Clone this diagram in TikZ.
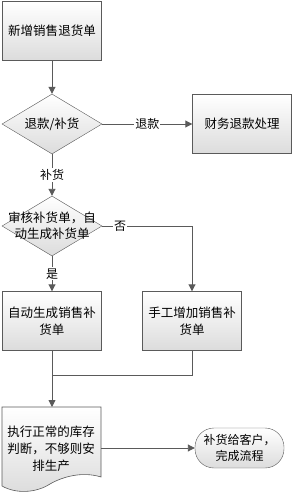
\documentclass[tikz,border=0pt]{standalone}
\usepackage{fontspec}
\setmainfont{Noto Sans CJK SC}
\usetikzlibrary{arrows.meta,shapes.geometric}
\definecolor{edge}{RGB}{90,90,90}
\definecolor{boxlo}{RGB}{220,220,220}
\tikzset{
  blk/.style={draw=edge,top color=white,bottom color=boxlo,align=center,
              inner sep=1pt,font=\fontsize{12.5}{17}\selectfont,
              minimum width=99pt,minimum height=59pt},
  dec/.style={blk,diamond,minimum width=100pt,minimum height=60pt,inner sep=0pt},
  txt/.style={align=center,inner sep=0pt,font=\fontsize{12.5}{16}\selectfont},
  term/.style={blk,rounded corners=19pt,minimum width=89pt,minimum height=40pt,
               font=\fontsize{12}{16}\selectfont},
  flow/.style={-{Triangle[length=7pt,width=7pt]},draw=edge,line width=0.9pt},
  link/.style={draw=edge,line width=0.9pt},
  lbl/.style={fill=white,inner sep=1pt,font=\fontsize{12}{14}\selectfont},
}
\begin{document}
\begin{tikzpicture}[x=1pt,y=-1pt]
  \useasboundingbox (0,0) rectangle (294,492);

  % ---------------- top: new order and first decision ----------------
  \node[blk] (new) at (52,31) {新增销售退货单};
  \node[dec] (d1) at (52,124) {};
  \node[txt] (d1t) at (d1) {退款/补货};
  \node[blk] (fin) at (242,124) {财务退款处理};
  \draw[flow] (new) -- (d1);
  \draw[flow] (d1.east) -- node[lbl] (l1) {退款} (fin.west);

  % ---------------- audit ----------------
  \node[dec] (d2) at (52,226) {};
  \node[txt] (d2t) at (d2) {审核补货单，自\\动生成补货单};
  \draw[flow] (d1) -- node[lbl] (l2) {补货} (d2);

  \node[blk] (auto) at (52,321) {自动生成销售补\\货单};
  \node[blk] (hand) at (192,321) {手工增加销售补\\货单};
  \draw[flow] (d2) -- node[lbl] (l3) {是} (auto);
  \draw[flow] (d2.east) -| node[lbl,pos=0.1] (l4) {否} (hand.north);

  % ---------------- join, stock check, end ----------------
  \coordinate (j) at (52,375);
  \coordinate (dtop) at (52,407);
  \draw[link] (auto) -- (j);
  \draw[link] (hand) |- (j);
  \draw[flow] (j) -- (dtop);

  \shade[top color=white,bottom color=boxlo,draw=edge,line width=0.6pt]
    (2,407) -- (101,407) -- (101,477)
    .. controls (82,471) and (62,477) .. (50,484)
    .. controls (36,493) and (16,494) .. (2,486) -- cycle;
  \node[txt,font=\fontsize{12.5}{17}\selectfont] (doc) at (51,449)
    {执行正常的库存\\判断，不够则安\\排生产};
  \coordinate (dright) at (101,448);

  \node[term] (done) at (239.5,448) {补货给客户，\\完成流程};
  \draw[flow] (dright) -- (done.west);
\end{tikzpicture}
\end{document}
